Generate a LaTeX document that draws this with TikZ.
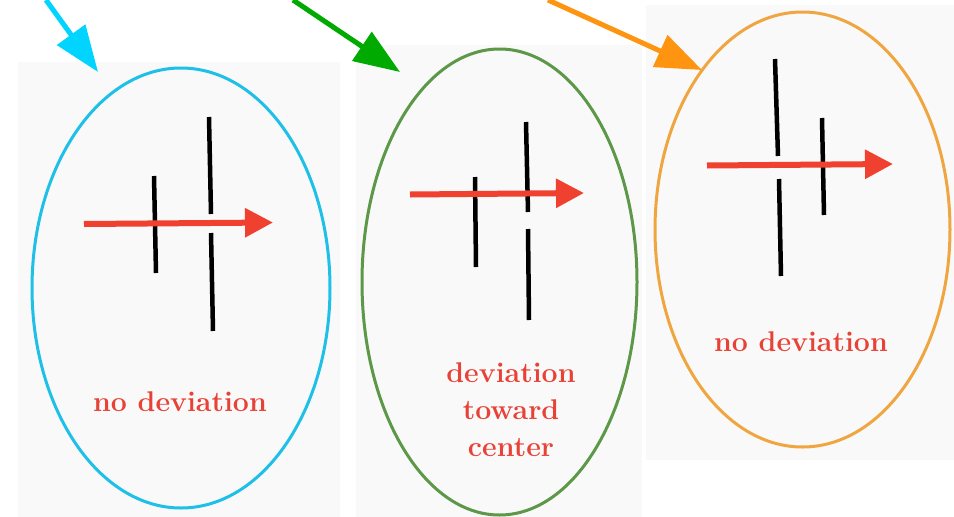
\documentclass[tikz,border=0pt]{standalone}
\usetikzlibrary{arrows.meta,shapes.geometric}
\definecolor{panelgray}{RGB}{249,249,249}
\definecolor{cyanarrow}{RGB}{0,212,255}
\definecolor{cyanring}{RGB}{30,192,232}
\definecolor{greenarrow}{RGB}{0,170,0}
\definecolor{greenring}{RGB}{92,152,72}
\definecolor{orangearrow}{RGB}{255,148,17}
\definecolor{orangering}{RGB}{240,166,64}
\definecolor{redarrow}{RGB}{240,64,48}
\definecolor{redtext}{RGB}{232,66,54}
\tikzset{
  panel/.style={fill=panelgray, draw=none},
  ring/.style={ellipse, draw, line width=3pt, inner sep=0pt},
  bigarrow/.style={line width=5pt, -{Triangle[length=46pt,width=34pt]}},
  redvec/.style={draw=redarrow, line width=6pt, -{Triangle[length=28pt,width=28pt]}},
  bar/.style={line width=4.5pt, black},
  label/.style={text=redtext, font=\fontsize{28.5}{37}\selectfont\bfseries, align=center, inner sep=0pt}
}
\begin{document}
\begin{tikzpicture}[x=1pt,y=-1pt]
\useasboundingbox (0,0) rectangle (954,517);
\fill[white] (0,0) rectangle (954,517);
% background panels
\path[panel] (18,62) rectangle (340,517);
\path[panel] (356,45) rectangle (642,517);
\path[panel] (646,5) rectangle (954,460);

% ellipses
\node[ring, draw=cyanring, minimum width=298pt, minimum height=440pt] (e1) at (181,288) {};
\node[ring, draw=greenring, minimum width=275pt, minimum height=466pt] (e2) at (499.5,282) {};
\node[ring, draw=orangering, minimum width=295pt, minimum height=435pt] (e3) at (802.5,229.5) {};

% pointer arrows
\coordinate (c1s) at (46,0);
\coordinate (c1t) at (98,72);
\coordinate (c2s) at (293,0);
\coordinate (c2t) at (400,72);
\coordinate (c3s) at (548,0);
\coordinate (c3t) at (702,70);
\draw[bigarrow, draw=cyanarrow, fill=cyanarrow] (c1s) -- (c1t);
\draw[bigarrow, draw=greenarrow, fill=greenarrow] (c2s) -- (c2t);
\draw[bigarrow, draw=orangearrow, fill=orangearrow] (c3s) -- (c3t);

% panel 1 bars
\coordinate (p1a) at (154,176); \coordinate (p1b) at (156,273);
\coordinate (p1c) at (209,117); \coordinate (p1d) at (211,214);
\coordinate (p1e) at (211,233); \coordinate (p1f) at (213,331);
\draw[bar] (p1a) -- (p1b);
\draw[bar] (p1c) -- (p1d);
\draw[bar] (p1e) -- (p1f);
\coordinate (r1s) at (84,224); \coordinate (r1t) at (273,222.5);
\draw[redvec] (r1s) -- (r1t);

% panel 2 bars
\coordinate (p2a) at (475,177); \coordinate (p2b) at (476,267);
\coordinate (p2c) at (526,122); \coordinate (p2d) at (528,212);
\coordinate (p2e) at (528,229); \coordinate (p2f) at (529,320);
\draw[bar] (p2a) -- (p2b);
\draw[bar] (p2c) -- (p2d);
\draw[bar] (p2e) -- (p2f);
\coordinate (r2s) at (410,194.5); \coordinate (r2t) at (584,193);
\draw[redvec] (r2s) -- (r2t);

% panel 3 bars
\coordinate (p3a) at (775,59); \coordinate (p3b) at (778,156);
\coordinate (p3c) at (779,179); \coordinate (p3d) at (781,276);
\coordinate (p3e) at (822,118); \coordinate (p3f) at (824,215);
\draw[bar] (p3a) -- (p3b);
\draw[bar] (p3c) -- (p3d);
\draw[bar] (p3e) -- (p3f);
\coordinate (r3s) at (707,165.5); \coordinate (r3t) at (893,164);
\draw[redvec] (r3s) -- (r3t);

% labels
\node[label] (t1) at (180,402) {no deviation};
\node[label] (t2) at (511,410) {deviation\\toward\\center};
\node[label] (t3) at (801,342) {no deviation};
\end{tikzpicture}
\end{document}
